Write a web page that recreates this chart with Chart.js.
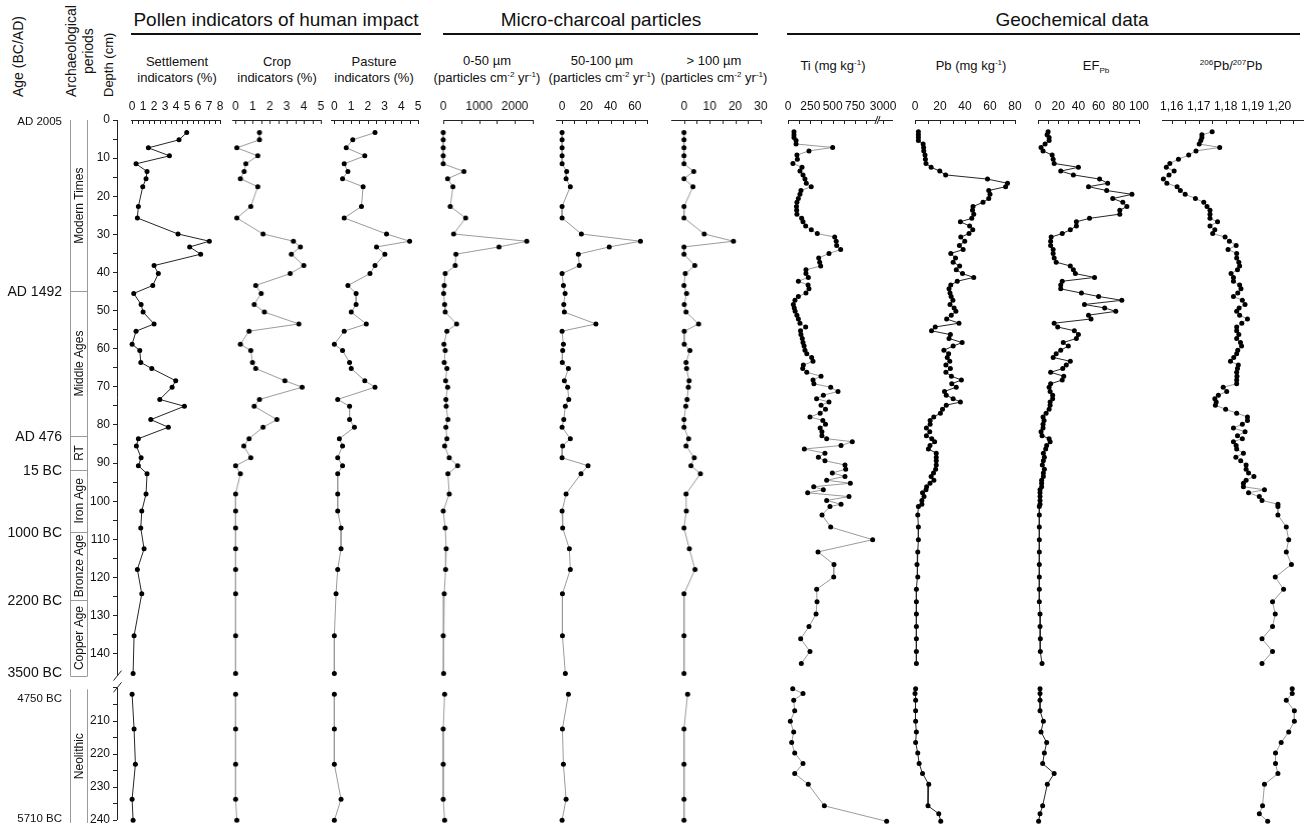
<!DOCTYPE html>
<html>
<head>
<meta charset="utf-8">
<script src="https://cdn.jsdelivr.net/npm/chart.js@4.4.1/dist/chart.umd.min.js"></script>
<style>
html, body { margin: 0; padding: 0; background: #fff; overflow: hidden; width: 1304px; height: 828px; }
body { position: relative; font-family: "Liberation Sans", Arial, Helvetica, sans-serif; color: #111; }
canvas { position: absolute; top: 0; }
.t { position: absolute; white-space: nowrap; }
.big { font-size: 19px; line-height: 19px; top: 10px; transform: translateX(-50%); }
.rule { position: absolute; top: 33px; height: 1.5px; background: #111; }
.sub { font-size: 13px; line-height: 16px; text-align: center; transform: translateX(-50%); }
.v { position: absolute; white-space: nowrap; transform-origin: 0 0; transform: rotate(-90deg); }
sup { font-size: 0.62em; vertical-align: 0.6em; line-height: 0; }
sub { font-size: 0.62em; vertical-align: -0.35em; line-height: 0; }
</style>
</head>
<body>

<div class="v" style="left:10px;top:97px;font-size:14px;line-height:16px">Age (BC/AD)</div>
<div class="v" style="left:63px;top:97px;font-size:14px;line-height:17px;text-align:center">Archaeological<br>periods</div>
<div class="v" style="left:100.5px;top:97px;font-size:13px;line-height:16px">Depth (cm)</div>

<div class="t big" style="left:276px">Pollen indicators of human impact</div>
<div class="rule" style="left:131px;width:290px"></div>
<div class="t big" style="left:601px">Micro-charcoal particles</div>
<div class="rule" style="left:443px;width:315px"></div>
<div class="t big" style="left:1072px">Geochemical data</div>
<div class="rule" style="left:787px;width:513px"></div>

<div class="t sub" style="left:177px;top:54px">Settlement<br>indicators (%)</div>
<div class="t sub" style="left:277px;top:54px">Crop<br>indicators (%)</div>
<div class="t sub" style="left:374px;top:54px">Pasture<br>indicators (%)</div>
<div class="t sub" style="left:487px;top:52px;line-height:17px">0-50 µm<br>(particles cm<sup>-2</sup> yr<sup>-1</sup>)</div>
<div class="t sub" style="left:602px;top:52px;line-height:17px">50-100 µm<br>(particles cm<sup>-2</sup> yr<sup>-1</sup>)</div>
<div class="t sub" style="left:714px;top:52px;line-height:17px">&gt; 100 µm<br>(particles cm<sup>-2</sup> yr<sup>-1</sup>)</div>
<div class="t sub" style="left:833px;top:58px">Ti (mg kg<sup>-1</sup>)</div>
<div class="t sub" style="left:971px;top:58px">Pb (mg kg<sup>-1</sup>)</div>
<div class="t sub" style="left:1096px;top:58px">EF<sub>Pb</sub></div>
<div class="t sub" style="left:1231px;top:58px"><sup>206</sup>Pb/<sup>207</sup>Pb</div>

<script>
// ---------- data ----------
// pollen and micro-charcoal samples share the same depths (cm)
const POLLEN_DEPTH = [3.3, 5.2, 7.3, 9.4, 11.5, 13.5, 15.4, 17.5, 22.7, 25.7,
  29.9, 31.8, 33.3, 35.2, 38.2, 40.3, 43.4, 45.5, 48.4, 50.4,
  53.5, 55.4, 58.8, 60.5, 63.6, 65.2, 68.4, 70.1, 73.3, 75.1,
  78.6, 80.6, 83.6, 85.5, 88.6, 90.7, 92.8, 98.1, 102.6, 107.0,
  112.5, 117.9, 124.3, 135.3, 145.2];
const POLLEN_DEPTH_LOW = [201.9, 212.4, 223.1, 233.7, 240.1];

const SETTLEMENT = [4.97, 4.27, 1.48, 3.4, 0.36, 1.36, 1.27, 0.97, 0.57, 0.48,
  4.18, 7.03, 5.24, 6.24, 2.0, 2.39, 1.88, 0.15, 0.82, 1.0,
  2.0, 0.36, 0.0, 0.7, 0.79, 1.79, 3.97, 3.64, 2.52, 4.76,
  1.7, 3.3, 0.57, 0.39, 0.82, 0.57, 1.36, 1.27, 0.88, 0.79,
  1.09, 0.48, 0.88, 0.18, 0.09];
const SETTLEMENT_LOW = [0, 0.18, 0.3, 0, 0.09];

const CROP = [1.4, 1.4, 0.07, 1.3, 0.6, 0.5, 0.28, 1.3, 0.89, 0.07,
  1.61, 3.39, 3.8, 3.27, 4.0, 3.2, 1.18, 1.5, 1.09, 1.69,
  3.71, 0.79, 0.28, 0.89, 0.99, 1.18, 2.89, 3.9, 1.4, 1.09,
  2.42, 1.61, 0.79, 0.48, 0.89, 0, 0.28, 0, 0, 0,
  0, 0, 0, 0, 0];
const CROP_LOW = [0, 0, 0, 0, 0.07];

const PASTURE = [2.43, 1.1, 0.71, 1.82, 0.59, 0.81, 0.49, 1.72, 1.62, 0.59,
  3.12, 4.5, 2.52, 3.02, 2.43, 2.13, 0.81, 1.3, 1.3, 1.01,
  1.91, 0.59, 0.0, 0.49, 0.91, 1.01, 1.82, 2.43, 0.2, 0.91,
  0.91, 1.2, 0.3, 0.49, 0.2, 0.49, 0.2, 0.2, 0.2, 0.4,
  0.4, 0.2, 0.1, 0, 0];
const PASTURE_LOW = [0, 0, 0, 0.4, 0];

const CHAR_0_50 = [0, 0, 0, 0, 0, 578, 123, 271, 196, 626,
  290, 2330, 1556, 355, 335, 56, 28, 11, 39, 56,
  374, 103, 20, 56, 28, 103, 67, 123, 75, 84,
  131, 75, 103, 39, 168, 402, 131, 168, 0, 56,
  84, 67, 28, 0, 11];
const CHAR_0_50_LOW = [39, 0, 0, 0, 39];

const CHAR_50_100 = [0, 0, 0, 0, 0, 3.8, 3.3, 6.8, 0, 0,
  15.9, 64.6, 38.9, 13.4, 14.2, 0, 1.1, 2.5, 1.4, 1.9,
  27.9, 0, 1.1, 0.5, 0.2, 5.2, 1.9, 4.6, 5.5, 2.7,
  1.4, 0, 6.8, 0.5, 0, 21.4, 15.6, 3.3, 0, 0.5,
  6.0, 6.8, 0.3, 0.3, 2.7];
const CHAR_50_100_LOW = [5.2, 0.3, 1.1, 3.3, 0];

const CHAR_GT_100 = [0, 0, 0, 0, 0, 3.8, 0, 3.5, 0, 0,
  7.9, 19.3, 0, 0, 4.2, 0.5, 0, 1.0, 0.1, 0.8,
  5.7, 0.1, 0.1, 2.3, 0.8, 1.0, 2.0, 1.7, 1.2, 0.7,
  0, 0, 1.8, 0.8, 4.0, 2.7, 6.4, 0.8, 0.9, 0,
  2.1, 4.3, 0, 0, 0];
const CHAR_GT_100_LOW = [1.4, 0, 0, 0, 0];

// geochemical samples share the same depths (cm)
const GEO_DEPTH = [3.1, 3.9, 4.6, 5.4, 6.3, 7.2, 8.1, 9.2, 10.3, 11.4,
  12.4, 13.4, 14.4, 15.5, 16.6, 17.5, 18.5, 19.5, 20.6, 21.6,
  22.7, 23.7, 24.7, 25.8, 26.7, 27.8, 28.8, 29.8, 30.7, 31.8,
  32.9, 34.0, 35.0, 36.2, 37.3, 38.3, 39.3, 40.3, 41.3, 42.3,
  43.3, 44.3, 45.4, 46.3, 47.3, 48.4, 49.3, 50.2, 51.2, 52.2,
  53.3, 54.3, 55.3, 56.3, 57.3, 58.4, 59.3, 60.4, 61.3, 62.3,
  63.3, 64.3, 65.2, 66.2, 67.2, 68.2, 69.2, 70.1, 71.2, 72.2,
  73.1, 74.0, 74.8, 75.9, 76.9, 77.9, 78.8, 79.8, 80.8, 81.8,
  82.8, 83.6, 84.4, 85.4, 86.3, 87.4, 88.5, 89.4, 90.5, 91.6,
  92.6, 93.5, 94.5, 95.3, 96.2, 97.0, 97.8, 98.8, 99.8, 100.8,
  101.4, 103.6, 106.8, 110.1, 113.3, 116.6, 119.9, 123.1, 126.4, 129.6,
  132.9, 136.1, 139.4, 142.6];
const GEO_DEPTH_LOW = [200.2, 201.7, 203.7, 206.9, 210.1, 213.3, 216.5, 219.7, 222.9, 225.9,
  229.2, 235.7, 238.1, 240.4];

const TI = [67, 67, 67, 90, 90, 500, 235, 100, 105, 55,
  157, 134, 168, 190, 205, 260, 145, 134, 116, 100,
  95, 97, 100, 153, 168, 198, 261, 328, 523, 540,
  545, 590, 459, 344, 355, 366, 201, 201, 228, 116,
  225, 235, 201, 116, 78, 60, 70, 80, 100, 116,
  134, 198, 140, 145, 160, 168, 180, 190, 210, 265,
  280, 172, 165, 210, 370, 280, 290, 478, 560, 396,
  320, 459, 370, 420, 360, 246, 390, 420, 360, 380,
  380, 433, 720, 594, 183, 414, 340, 414, 638, 646,
  496, 638, 433, 698, 288, 396, 220, 683, 433, 594,
  470, 381, 478, 948, 336, 515, 512, 321, 325, 314,
  235, 142, 246, 149];
const TI_LOW = [53, 168, 64, 75, 26, 64, 41, 75, 168, 75, 227, 407, null, 3040];

const PB = [2.7, 2.7, 2.7, 2.7, 6.5, 6.9, 7.0, 8.0, 8.3, 8.8,
  12.9, 19.8, 24.5, 58, 74, 72.5, 59, 60, 59, 54.4,
  46.4, 46, 47, 45.4, 36.3, 43.7, 46.2, 43.2, 36.6, 39.8,
  35.5, 38.5, 28.6, 32.4, 30.5, 35.7, 33, 38, 47, 33.8,
  28.6, 27.2, 28, 28.9, 30.3, 28, 31.3, 32.7, 29, 25.3,
  35.2, 16.2, 13.2, 28.3, 27.2, 37.7, 30.5, 23.1, 26.9, 25.8,
  27.8, 24.7, 28.3, 24.7, 29.1, 37.1, 29.4, 33, 23.6, 25,
  30.5, 36.3, 25, 22, 20.3, 15, 12.1, 12.1, 9.1, 11.8,
  9.1, 13.4, 15.7, 12, 10.7, 17, 17, 17, 17, 16.5,
  14.8, 12.9, 15.1, 12, 9.3, 8.8, 6.0, 7.2, 5.5, 5.5,
  2.7, 2.2, 2.7, 2.7, 2.2, 1.6, 2.2, 1.1, 1.1, 1.1,
  1.1, 1.1, 1.1, 1.1];
const PB_LOW = [0.5, 0, 0.5, 0.5, 0.5, 1.1, 0.5, 2.2, 3.3, 6, 11, 10.4, 19, 20.6];

const EF_PB = [10, 9, 11, 11, 7, 3, 5, 14, 15, 16,
  40, 22.5, 35, 61, 69, 50, 68, 93, 74, 84,
  88, 81, 81, 51, 38, 38, 32, 24, 13, 12.5,
  12.5, 15, 15, 16, 18, 32, 35, 37, 56, 24,
  22.5, 22.5, 43, 60, 83, 46, 66, 77, 50, 52.5,
  16, 19.5, 36, 40, 38, 25, 30, 22.5, 18, 15,
  32, 28, 24.5, 12.5, 25.5, 24, 12.5, 11, 12, 14.5,
  14.5, 12, 12, 11, 8, 5, 6, 5, 5, 3,
  4, 11, 12, 8.6, 7.6, 5.3, 6.3, 5.3, 4.3, 6.3,
  5.3, 5.3, 3.6, 3.6, 3.6, 2, 2, 2, 2, 2,
  1.3, 1.3, 1.3, 1.3, 1.3, 1.3, 1.3, 1.3, 1.3, 2,
  2, 2.3, 2.3, 4];
const EF_PB_LOW = [2, 2, 2, 2, 5.3, 3, 8.6, 6.3, 4.6, 16, 9.2, 4.6, 2, 0.6];

const PB_RATIO = [1.1750, 1.1712, 1.1712, 1.1708, 1.1702, 1.1778, 1.1690, 1.1663, 1.1625, 1.1593,
  1.1580, 1.1609, 1.1590, 1.1569, 1.1582, 1.1620, 1.1632, 1.1650, 1.1688, 1.1719,
  1.1731, 1.1742, 1.1742, 1.1742, 1.1770, 1.1742, 1.1760, 1.1752, 1.1798, 1.1814,
  1.1839, 1.1809, 1.1841, 1.1841, 1.1849, 1.1852, 1.1844, 1.1820, 1.1829, 1.1829,
  1.1852, 1.1857, 1.1845, 1.1829, 1.1862, 1.1872, 1.1850, 1.1841, 1.1852, 1.1881,
  1.1860, 1.1841, 1.1841, 1.1849, 1.1841, 1.1855, 1.1859, 1.1845, 1.1841, 1.1830,
  1.1818, 1.1847, 1.1844, 1.1841, 1.1842, 1.1841, 1.1841, 1.1791, 1.1804, 1.1773,
  1.1760, 1.1765, 1.1762, 1.1800, 1.1841, 1.1881, 1.1881, 1.1862, 1.1829, 1.1872,
  1.1844, 1.1862, 1.1829, 1.1839, 1.1841, 1.1866, 1.1838, 1.1856, 1.1876, 1.1876,
  1.1885, 1.1905, 1.1876, 1.1866, 1.1866, 1.1944, 1.1885, 1.1925, 1.1935, 1.1994,
  1.1994, 1.1994, 1.2025, 1.2034, 1.2025, 1.2044, 1.1984, 1.2015, 1.1974, 1.1984,
  1.1974, 1.1935, 1.1974, 1.1935];
const PB_RATIO_LOW = [1.2047, 1.2047, 1.2025, 1.2055, 1.2055, 1.2034, 1.2006, 1.1985, 1.1985, 1.1994,
  1.1944, 1.1937, 1.1925, 1.1956];

// axis tick labels
const DEPTH_LABELS = [0, 10, 20, 30, 40, 50, 60, 70, 80, 90, 100, 110, 120, 130, 140];
const DEPTH_LOW_LABELS = [210, 220, 230, 240];
const AGE_TEXT = ['AD 2005', 'AD 1492', 'AD 476', '15 BC', '1000 BC', '2200 BC', '3500 BC', '4750 BC', '5710 BC'];
const AGE_DEPTH = [0.5, 45.2, 83.1, 92.1, 108.3, 126.1, 145.1, 203.2, 239.7];
const PERIOD_NAMES = ['Modern Times', 'Middle Ages', 'RT', 'Iron Age', 'Bronze Age', 'Copper Age'];
const PERIOD_BOUNDS = [0, 44.9, 82.9, 91.8, 108.0, 125.9, 145.9];
const PERIOD_LOW_NAME = 'Neolithic';
const PERIOD_LOW_BOUNDS = [200.4, 240.9];

const SETTLE_TICKS = [0, 1, 2, 3, 4, 5, 6, 7, 8];
const CROP_TICKS = [0, 1, 2, 3, 4, 5];
const PASTURE_TICKS = [0, 1, 2, 3, 4, 5];
const C50_TICKS = [0, 1000, 2000];
const C100_TICKS = [0, 20, 40, 60];
const CGT_TICKS = [0, 10, 20, 30];
const TI_TICKS = [0, 250, 500, 750, 3000];
const PB_TICKS = [0, 20, 40, 60, 80];
const EF_TICKS = [0, 20, 40, 60, 80, 100];
const RATIO_TICKS = [1.16, 1.17, 1.18, 1.19, 1.20];
const RATIO_TEXT = ['1,16', '1,17', '1,18', '1,19', '1,20'];
const TI_BREAK = [990, 2950];

// ---------- layout ----------
const FONT = '"Liberation Sans", Arial, Helvetica, sans-serif';
const TOP = 120, BREAK_Y = 674.6, BOTTOM = 828, CANVAS_H = 850;
const AXIS_H = 22, PAD = 30, TICK_LEN = 4, DEPTH_W = 40;
const UP_MAX = 145.49, LOW_MIN = 195.94, LOW_MAX = 242.42;

Chart.defaults.font.family = FONT;

// linear axis with a gap between TI_BREAK[0] and TI_BREAK[1]
const LinearScale = Chart.LinearScale || Chart.registry.getScale('linear');
const BRK_DEC = [0.85, 0.871];
class BrokenScale extends LinearScale {
  getPixelForValue(v) {
    if (v === null || v === undefined) return NaN;
    let d;
    if (v <= TI_BREAK[0]) d = (v - this.min) / (TI_BREAK[0] - this.min) * BRK_DEC[0];
    else d = BRK_DEC[1] + (v - TI_BREAK[1]) / (this.max - TI_BREAK[1]) * (1 - BRK_DEC[1]);
    return this.getPixelForDecimal(d);
  }
  getValueForPixel(px) {
    const d = this.getDecimalForPixel(px);
    if (d <= BRK_DEC[0]) return this.min + d / BRK_DEC[0] * (TI_BREAK[0] - this.min);
    return TI_BREAK[1] + (d - BRK_DEC[1]) / (1 - BRK_DEC[1]) * (this.max - TI_BREAK[1]);
  }
}
BrokenScale.id = 'broken';
BrokenScale.defaults = LinearScale.defaults;
Chart.register(BrokenScale);

function withMinor(from, to, step) {
  const out = [];
  for (let v = from; v <= to + step / 1000; v += step) out.push(Math.round(v * 1e6) / 1e6);
  return out;
}

function makeCanvas(left, width) {
  const c = document.createElement('canvas');
  c.width = width; c.height = CANVAS_H;
  c.style.left = left + 'px';
  c.style.width = width + 'px'; c.style.height = CANVAS_H + 'px';
  document.body.appendChild(c);
  return c;
}

function depthScales(show) {
  const base = {
    type: 'linear', position: 'left', stack: 'depth', reverse: true, display: show,
    grid: { drawOnChartArea: false, drawTicks: true, tickLength: TICK_LEN, color: '#222' },
    border: { display: false }
  };
  const tickOpts = { autoSkip: false, padding: 3, color: '#111', font: { family: FONT, size: 12 } };
  const fit = show ? { afterFit: s => { s.width = DEPTH_W; } } : {};
  return {
    yUp: Object.assign({}, base, fit, {
      min: 0, max: UP_MAX, weight: 2, stackWeight: BREAK_Y - TOP,
      afterBuildTicks: s => { s.ticks = withMinor(0, 140, 5).map(v => ({ value: v })); },
      ticks: Object.assign({}, tickOpts, { callback: v => DEPTH_LABELS.includes(v) ? String(v) : '' })
    }),
    yLow: Object.assign({}, base, fit, {
      min: LOW_MIN, max: LOW_MAX, weight: 1, stackWeight: BOTTOM - BREAK_Y,
      afterBuildTicks: s => { s.ticks = withMinor(200, 240, 5).map(v => ({ value: v })); },
      ticks: Object.assign({}, tickOpts, { callback: v => DEPTH_LOW_LABELS.includes(v) ? String(v) : '' })
    })
  };
}

// tick marks hang below the top axis line
function hangTicks(broken) {
  return {
    id: 'hangTicks',
    afterDraw(chart) {
      const s = chart.scales.x, ctx = chart.ctx;
      ctx.save();
      ctx.strokeStyle = '#222'; ctx.lineWidth = 1;
      ctx.beginPath();
      s.ticks.forEach(t => {
        const px = Math.round(s.getPixelForValue(t.value)) + 0.5;
        ctx.moveTo(px, s.bottom); ctx.lineTo(px, s.bottom + TICK_LEN);
      });
      ctx.stroke();
      if (broken) {
        const a = s.getPixelForValue(TI_BREAK[0]), b = s.getPixelForValue(TI_BREAK[1]);
        ctx.fillStyle = '#fff';
        ctx.fillRect(a, s.bottom - 1, b - a, 3);
        ctx.beginPath();
        [a, b].forEach(x => { ctx.moveTo(x - 1.5, s.bottom + 4); ctx.lineTo(x + 1.5, s.bottom - 4); });
        ctx.stroke();
      }
      ctx.restore();
    }
  };
}

function makePanel(p) {
  const cv = makeCanvas(p.x0 - PAD, p.x1 - p.x0 + 2 * PAD);
  const ds = (vals, depths, axis) => ({
    data: depths.map((d, i) => ({ x: vals[i], y: d })),
    yAxisID: axis, showLine: true, spanGaps: true, clip: false,
    borderColor: p.line, borderWidth: 1, tension: 0,
    pointRadius: 2.5, pointBackgroundColor: '#000', pointBorderWidth: 0
  });
  const text = p.text || p.labels.map(String);
  new Chart(cv, {
    type: 'scatter',
    data: { datasets: [ds(p.up, p.depth, 'yUp'), ds(p.low, p.depthLow, 'yLow')] },
    options: {
      responsive: false, animation: false, events: [],
      layout: { padding: { left: PAD, right: PAD, top: TOP - AXIS_H, bottom: CANVAS_H - BOTTOM } },
      plugins: { legend: { display: false }, tooltip: { enabled: false } },
      scales: Object.assign({
        x: {
          type: p.scale || 'linear', position: 'top', min: p.min, max: p.max,
          grid: { drawOnChartArea: false, drawTicks: false },
          border: { display: true, color: '#222', width: 1 },
          ticks: {
            autoSkip: false, maxRotation: 0, padding: 6, color: '#111', font: { family: FONT, size: 12 },
            callback: v => {
              const i = p.labels.findIndex(l => Math.abs(l - v) < 1e-9);
              return i < 0 ? '' : text[i];
            }
          },
          afterBuildTicks: s => { s.ticks = p.ticks.map(v => ({ value: v })); },
          afterFit: s => { s.height = AXIS_H; }
        }
      }, depthScales(false))
    },
    plugins: [hangTicks(p.scale === 'broken')]
  });
}

const DARK = '#262626', GREY = '#9a9a9a';
const PANELS = [
  { x0: 131.4, x1: 220.5, min: -0.1, max: 8, labels: SETTLE_TICKS, ticks: withMinor(0, 8, 0.5),
    up: SETTLEMENT, low: SETTLEMENT_LOW, depth: POLLEN_DEPTH, depthLow: POLLEN_DEPTH_LOW, line: DARK },
  { x0: 232.1, x1: 320.7, min: -0.2, max: 5, labels: CROP_TICKS, ticks: withMinor(0, 5, 0.5),
    up: CROP, low: CROP_LOW, depth: POLLEN_DEPTH, depthLow: POLLEN_DEPTH_LOW, line: GREY },
  { x0: 330.6, x1: 418.5, min: -0.2, max: 5, labels: PASTURE_TICKS, ticks: withMinor(0, 5, 0.5),
    up: PASTURE, low: PASTURE_LOW, depth: POLLEN_DEPTH, depthLow: POLLEN_DEPTH_LOW, line: GREY },
  { x0: 443.3, x1: 532.8, min: 0, max: 2500, labels: C50_TICKS, ticks: withMinor(0, 2500, 500),
    up: CHAR_0_50, low: CHAR_0_50_LOW, depth: POLLEN_DEPTH, depthLow: POLLEN_DEPTH_LOW, line: GREY },
  { x0: 555.6, x1: 646.9, min: -5, max: 70, labels: C100_TICKS, ticks: withMinor(0, 70, 10),
    up: CHAR_50_100, low: CHAR_50_100_LOW, depth: POLLEN_DEPTH, depthLow: POLLEN_DEPTH_LOW, line: GREY },
  { x0: 671.2, x1: 761, min: -5, max: 30, labels: CGT_TICKS, ticks: withMinor(0, 30, 5),
    up: CHAR_GT_100, low: CHAR_GT_100_LOW, depth: POLLEN_DEPTH, depthLow: POLLEN_DEPTH_LOW, line: GREY },
  { x0: 788, x1: 892, min: 0, max: 3100, scale: 'broken', labels: TI_TICKS, ticks: withMinor(0, 875, 125).concat([3000]),
    up: TI, low: TI_LOW, depth: GEO_DEPTH, depthLow: GEO_DEPTH_LOW, line: GREY },
  { x0: 915, x1: 1015, min: 0, max: 80, labels: PB_TICKS, ticks: withMinor(0, 80, 10),
    up: PB, low: PB_LOW, depth: GEO_DEPTH, depthLow: GEO_DEPTH_LOW, line: DARK },
  { x0: 1038, x1: 1139, min: 0, max: 100, labels: EF_TICKS, ticks: withMinor(0, 100, 10),
    up: EF_PB, low: EF_PB_LOW, depth: GEO_DEPTH, depthLow: GEO_DEPTH_LOW, line: DARK },
  { x0: 1162, x1: 1303, min: 1.1564, max: 1.2087, labels: RATIO_TICKS, text: RATIO_TEXT, ticks: withMinor(1.16, 1.205, 0.005),
    up: PB_RATIO, low: PB_RATIO_LOW, depth: GEO_DEPTH, depthLow: GEO_DEPTH_LOW, line: GREY }
];
PANELS.forEach(makePanel);

// ---------- depth axis with ages and archaeological periods ----------
const ageAxis = {
  id: 'ageAxis',
  afterDraw(chart) {
    const ctx = chart.ctx, up = chart.scales.yUp, low = chart.scales.yLow;
    const ax = chart.chartArea.left + 0.5;
    const py = d => (d < 170 ? up : low).getPixelForValue(d);
    ctx.save();
    ctx.strokeStyle = '#222'; ctx.lineWidth = 1;
    ctx.beginPath();
    ctx.moveTo(ax, py(0)); ctx.lineTo(ax, py(UP_MAX) + 1);
    ctx.moveTo(ax, py(200)); ctx.lineTo(ax, py(240));
    [py(UP_MAX) + 1, py(199.8)].forEach(y => { ctx.moveTo(ax - 4, y + 5); ctx.lineTo(ax + 4, y - 5); });
    ctx.stroke();

    // period column
    const c1 = 70.5, c2 = 87.5;
    ctx.strokeStyle = '#9a9a9a';
    ctx.beginPath();
    ctx.moveTo(c1, py(PERIOD_BOUNDS[0])); ctx.lineTo(c1, py(PERIOD_BOUNDS[PERIOD_BOUNDS.length - 1]));
    ctx.moveTo(c2, py(PERIOD_BOUNDS[0])); ctx.lineTo(c2, py(PERIOD_BOUNDS[PERIOD_BOUNDS.length - 1]));
    PERIOD_BOUNDS.slice(1).forEach(d => { const y = Math.round(py(d)) + 0.5; ctx.moveTo(c1, y); ctx.lineTo(c2, y); });
    ctx.moveTo(c1, py(PERIOD_LOW_BOUNDS[0])); ctx.lineTo(c1, py(PERIOD_LOW_BOUNDS[1]));
    ctx.moveTo(c2, py(PERIOD_LOW_BOUNDS[0])); ctx.lineTo(c2, py(PERIOD_LOW_BOUNDS[1]));
    ctx.stroke();

    ctx.fillStyle = '#111';
    ctx.textAlign = 'center'; ctx.textBaseline = 'middle';
    ctx.font = '12px ' + FONT;
    const vtext = (s, y) => {
      ctx.save(); ctx.translate((c1 + c2) / 2 + 0.5, y); ctx.rotate(-Math.PI / 2);
      ctx.fillText(s, 0, 0); ctx.restore();
    };
    PERIOD_NAMES.forEach((n, i) => vtext(n, (py(PERIOD_BOUNDS[i]) + py(PERIOD_BOUNDS[i + 1])) / 2));
    vtext(PERIOD_LOW_NAME, (py(PERIOD_LOW_BOUNDS[0]) + py(PERIOD_LOW_BOUNDS[1])) / 2);

    // ages
    ctx.textAlign = 'right';
    AGE_TEXT.forEach((s, i) => {
      const small = (i === 0 || i >= 7);
      ctx.font = (small ? '11.5px ' : '14px ') + FONT;
      ctx.fillText(s, 62, py(AGE_DEPTH[i]));
    });
    ctx.restore();
  }
};

const depthCanvas = makeCanvas(0, 130);
new Chart(depthCanvas, {
  type: 'scatter',
  data: { datasets: [] },
  options: {
    responsive: false, animation: false, events: [],
    layout: { padding: { left: 117 - DEPTH_W, right: 8, top: TOP, bottom: CANVAS_H - BOTTOM } },
    plugins: { legend: { display: false }, tooltip: { enabled: false } },
    scales: Object.assign({ x: { type: 'linear', display: false, min: 0, max: 1 } }, depthScales(true))
  },
  plugins: [ageAxis]
});
</script>
</body>
</html>
